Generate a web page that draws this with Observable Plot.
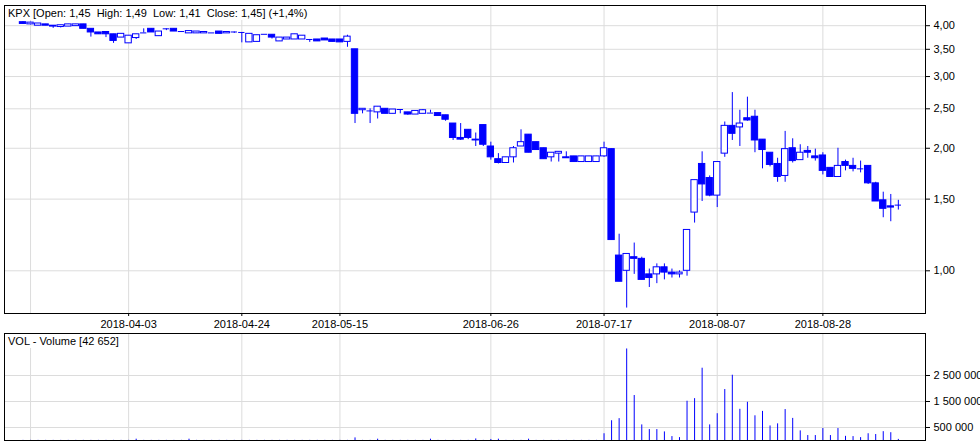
<!DOCTYPE html>
<html><head><meta charset="utf-8">
<script src="https://cdn.jsdelivr.net/npm/d3@7"></script>
<script src="https://cdn.jsdelivr.net/npm/@observablehq/plot@0.6"></script>
<style>
body{margin:0;background:#fff;}
#chart{width:980px;height:443px;position:relative;overflow:hidden;background:#fff;}
#chart svg{display:block;}
.lbl{position:absolute;background:#fff;font:11px 'Liberation Sans',Arial,sans-serif;color:#000;white-space:pre;line-height:14px;padding:0 3px;}
</style></head><body><div id="chart"></div>
<script>
// ---- data ----
const opens  = [4.08,4.03,4.00,4.03,4.00,3.97,3.98,3.99,4.03,3.93,3.85,3.86,3.81,3.74,3.62,3.73,3.84,3.93,3.77,3.93,3.93,3.87,3.83,3.83,3.83,3.84,3.87,3.83,3.86,3.85,3.64,3.65,3.81,3.80,3.66,3.70,3.70,3.70,3.70,3.70,3.72,3.70,3.70,3.65,3.50,2.48,2.47,2.45,2.50,2.43,2.49,2.45,2.42,2.43,2.44,2.44,2.41,2.30,2.12,2.22,2.10,2.28,2.02,1.88,1.84,1.90,2.02,2.16,2.07,2.00,1.90,1.94,1.90,1.91,1.85,1.85,1.85,1.91,1.99,1.09,1.00,1.08,1.07,0.98,0.98,1.02,0.99,0.98,1.00,1.39,1.83,1.69,1.53,1.94,2.27,2.25,2.37,2.39,2.10,1.95,1.83,1.71,2.00,1.87,1.97,1.91,1.92,1.79,1.70,1.85,1.81,1.78,1.81,1.64,1.49,1.44,1.45];
const highs  = [4.09,4.08,4.05,4.03,4.00,4.01,4.03,4.03,4.03,3.93,3.85,3.86,3.81,3.82,3.78,3.81,3.93,3.93,3.87,3.93,3.93,3.87,3.88,3.87,3.86,3.84,3.87,3.86,3.86,3.85,3.82,3.79,3.81,3.80,3.74,3.74,3.81,3.78,3.70,3.70,3.72,3.70,3.70,3.79,3.50,2.50,2.50,2.53,2.50,2.49,2.49,2.45,2.47,2.49,2.48,2.44,2.41,2.30,2.30,2.22,2.18,2.28,2.07,1.94,1.90,2.02,2.22,2.16,2.07,2.00,1.95,1.96,1.96,1.91,1.91,1.91,1.91,2.07,1.99,1.23,1.10,1.17,1.08,1.01,1.04,1.04,1.01,1.00,1.26,1.67,1.96,1.71,1.85,2.32,2.74,2.48,2.67,2.48,2.10,1.95,1.89,2.20,2.11,2.04,2.02,1.99,1.95,1.79,2.00,1.87,1.89,1.86,1.81,1.65,1.56,1.54,1.49];
const lows   = [4.03,4.02,4.00,4.00,3.94,3.95,3.98,3.99,3.93,3.75,3.81,3.74,3.62,3.74,3.62,3.70,3.84,3.85,3.77,3.89,3.87,3.85,3.83,3.83,3.83,3.84,3.82,3.83,3.83,3.63,3.64,3.65,3.81,3.71,3.66,3.70,3.70,3.70,3.64,3.66,3.68,3.65,3.64,3.54,2.30,2.43,2.30,2.36,2.43,2.43,2.43,2.41,2.42,2.43,2.44,2.40,2.33,2.09,2.09,2.10,2.02,2.02,1.87,1.83,1.84,1.84,2.02,1.95,1.98,1.88,1.85,1.85,1.89,1.85,1.85,1.85,1.85,1.90,1.19,0.94,0.81,0.98,0.95,0.91,0.93,0.95,0.96,0.96,0.97,1.31,1.48,1.52,1.43,1.90,2.09,2.02,2.33,1.95,1.78,1.80,1.65,1.65,1.84,1.87,1.89,1.86,1.72,1.70,1.70,1.76,1.75,1.74,1.63,1.48,1.35,1.32,1.41];
const closes = [4.04,4.07,4.05,4.00,3.98,4.01,4.03,4.03,3.93,3.85,3.81,3.81,3.67,3.82,3.78,3.81,3.84,3.85,3.87,3.93,3.87,3.87,3.88,3.87,3.86,3.84,3.82,3.86,3.86,3.85,3.82,3.79,3.81,3.74,3.74,3.74,3.81,3.78,3.70,3.66,3.68,3.65,3.64,3.76,2.43,2.50,2.47,2.53,2.43,2.49,2.49,2.42,2.47,2.48,2.44,2.40,2.35,2.12,2.10,2.12,2.09,2.04,1.90,1.84,1.90,2.00,2.07,1.95,1.98,1.88,1.95,1.96,1.89,1.85,1.91,1.91,1.91,2.00,1.19,0.94,1.10,1.07,0.95,0.96,1.02,0.99,0.98,0.99,1.26,1.67,1.63,1.53,1.85,2.27,2.17,2.30,2.34,2.09,1.98,1.82,1.70,1.99,1.86,1.95,1.95,1.89,1.76,1.70,1.81,1.81,1.78,1.78,1.64,1.48,1.42,1.43,1.45];
const volumes = [5000,5000,5000,5000,5000,5000,5000,5000,5000,5000,5000,5000,5000,5000,5000,50000,5000,5000,5000,5000,5000,5000,50000,5000,5000,5000,5000,5000,5000,5000,5000,5000,5000,5000,5000,5000,5000,5000,5000,5000,5000,5000,5000,5000,100000,5000,5000,50000,5000,5000,5000,5000,5000,5000,50000,5000,5000,5000,5000,5000,60000,5000,40000,50000,5000,5000,5000,50000,5000,5000,5000,5000,5000,5000,5000,5000,5000,260000,760000,840000,3520000,1730000,600000,420000,420000,330000,150000,110000,1510000,1610000,2780000,600000,1030000,1960000,2510000,1200000,1470000,950000,1120000,560000,640000,1190000,850000,370000,190000,190000,460000,190000,460000,160000,150000,110000,260000,230000,340000,300000,42652];
const tickIndex  = [1,14,29,42,62,77,92,106];
const tickLabels = ["2018-03-13","2018-04-03","2018-04-24","2018-05-15","2018-06-26","2018-07-17","2018-08-07","2018-08-28"];
const priceTicks  = [1,1.5,2,2.5,3,3.5,4];
const volumeTicks = [500000,1500000,2500000];
const priceTitle  = "KPX [Open: 1,45  High: 1,49  Low: 1,41  Close: 1,45] (+1,4%)";
const volumeTitle = "VOL - Volume [42 652]";

// ---- build ----
const bars = opens.map((o,i)=>({i, open:o, high:highs[i], low:lows[i], close:closes[i], volume:volumes[i]}));
const BLUE="#0000ff", GRID="#dcdcdc";
const xDomain=[-2.45,119.6];
const half=0.42;
const style={fontFamily:"'Liberation Sans',Arial,sans-serif",fontSize:"11px",color:"#000",background:"#fff",overflow:"visible"};

const main = Plot.plot({
  width:980, height:331, marginLeft:4, marginRight:55, marginTop:5, marginBottom:18,
  style,
  x:{type:"linear", domain:xDomain, axis:null},
  y:{type:"log", domain:[0.7855,4.484], axis:null},
  marks:[
    Plot.gridX(tickIndex,{stroke:GRID, strokeOpacity:1}),
    Plot.gridY(priceTicks,{stroke:GRID, strokeOpacity:1}),
    Plot.ruleX(bars,{x:"i", y1:"low", y2:"high", stroke:BLUE}),
    Plot.rect(bars.filter(d=>d.open!==d.close),{x1:d=>d.i-half, x2:d=>d.i+half, y1:"open", y2:"close", fill:d=>d.close<d.open?BLUE:"#fff", stroke:BLUE}),
    Plot.ruleY(bars.filter(d=>d.open===d.close),{y:"close", x1:d=>d.i-half, x2:d=>d.i+half, stroke:BLUE}),
    Plot.axisY(priceTicks,{anchor:"right", tickSize:4, tickPadding:4, tickFormat:d=>d.toFixed(2).replace(".",","), label:null, fill:"#000"}),
    Plot.axisX(tickIndex.slice(1),{anchor:"bottom", tickSize:3, tickPadding:4, tickFormat:d=>tickLabels[tickIndex.indexOf(d)], label:null, fill:"#000"}),
    Plot.frame({stroke:"#000"})
  ]
});

const vol = Plot.plot({
  width:980, height:112, marginLeft:4, marginRight:55, marginTop:2, marginBottom:3,
  style,
  x:{type:"linear", domain:xDomain, axis:null},
  y:{type:"linear", domain:[0,4115000], axis:null},
  marks:[
    Plot.gridX(tickIndex,{stroke:GRID, strokeOpacity:1}),
    Plot.gridY(volumeTicks,{stroke:GRID, strokeOpacity:1}),
    Plot.ruleX(bars,{x:"i", y1:0, y2:"volume", stroke:BLUE}),
    Plot.axisY(volumeTicks,{anchor:"right", tickSize:4, tickPadding:4, tickFormat:d=>d3.format(",")(d).replace(/,/g," "), label:null, fill:"#000"}),
    Plot.frame({stroke:"#000"})
  ]
});

const chart=document.getElementById("chart");
chart.appendChild(main);
chart.appendChild(vol);
const t1=document.createElement("div");
t1.className="lbl"; t1.textContent=priceTitle; t1.style.left="5px"; t1.style.top="6px";
const t2=document.createElement("div");
t2.className="lbl"; t2.textContent=volumeTitle; t2.style.left="5px"; t2.style.top="334px";
chart.appendChild(t1); chart.appendChild(t2);
</script></body></html>
